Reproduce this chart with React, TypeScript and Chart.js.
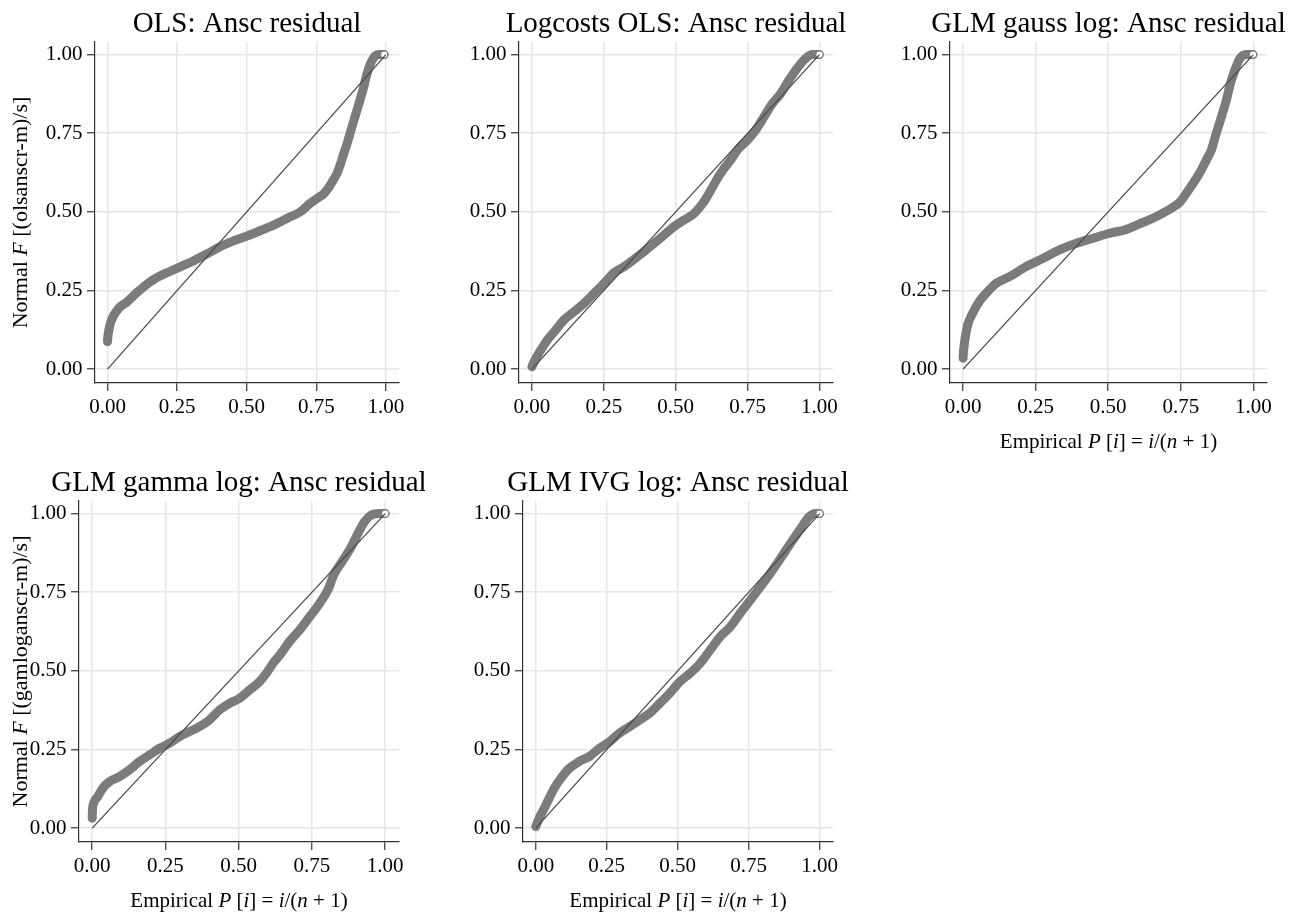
import React, { useEffect, useRef } from 'react';
import { Chart, registerables } from 'chart.js';

Chart.register(...registerables);

// ---------- data ----------
const AXIS_TICKS = [0, 0.25, 0.5, 0.75, 1];
const AXIS_TICK_LABELS = ['0.00', '0.25', '0.50', '0.75', '1.00'];
const DIAGONAL = [0, 1];

// OLS: Ansc residual
const olsP = [0.0, 0.001, 0.003, 0.006, 0.012, 0.02, 0.032, 0.044, 0.056, 0.068, 0.08, 0.092, 0.11, 0.128, 0.146, 0.164, 0.188, 0.212, 0.248, 0.28, 0.308, 0.356, 0.404, 0.452, 0.5, 0.548, 0.596, 0.644, 0.692, 0.728, 0.758, 0.776, 0.795, 0.811, 0.824, 0.836, 0.848, 0.86, 0.869, 0.878, 0.887, 0.896, 0.905, 0.914, 0.922, 0.929, 0.937, 0.944, 0.953, 0.962, 0.975, 0.994];
const olsF = [0.088, 0.1, 0.115, 0.13, 0.15, 0.167, 0.184, 0.197, 0.205, 0.212, 0.222, 0.232, 0.247, 0.26, 0.273, 0.284, 0.296, 0.306, 0.32, 0.333, 0.344, 0.366, 0.389, 0.408, 0.423, 0.44, 0.458, 0.479, 0.5, 0.527, 0.546, 0.557, 0.578, 0.601, 0.622, 0.65, 0.684, 0.715, 0.743, 0.77, 0.797, 0.823, 0.85, 0.877, 0.903, 0.929, 0.952, 0.97, 0.986, 0.996, 1.0, 1.0];

// Logcosts OLS: Ansc residual
const logolsP = [0, 0.014, 0.031, 0.054, 0.083, 0.112, 0.147, 0.182, 0.216, 0.251, 0.286, 0.321, 0.355, 0.39, 0.425, 0.459, 0.494, 0.529, 0.564, 0.598, 0.622, 0.645, 0.668, 0.691, 0.714, 0.749, 0.778, 0.807, 0.836, 0.865, 0.894, 0.922, 0.951, 0.975, 1.0];
const logolsF = [0.008, 0.035, 0.061, 0.093, 0.125, 0.157, 0.183, 0.21, 0.241, 0.273, 0.307, 0.326, 0.349, 0.374, 0.4, 0.426, 0.453, 0.474, 0.495, 0.532, 0.569, 0.606, 0.638, 0.665, 0.696, 0.728, 0.76, 0.802, 0.844, 0.876, 0.919, 0.956, 0.987, 1.0, 1.0];

// GLM gauss log: Ansc residual
const gaussP = [0, 0.002, 0.008, 0.016, 0.033, 0.056, 0.085, 0.114, 0.16, 0.217, 0.275, 0.332, 0.39, 0.447, 0.505, 0.562, 0.608, 0.65, 0.69, 0.723, 0.746, 0.77, 0.792, 0.81, 0.826, 0.841, 0.855, 0.872, 0.89, 0.907, 0.921, 0.936, 0.953, 0.976, 0.999];
const gaussF = [0.035, 0.061, 0.104, 0.141, 0.178, 0.215, 0.247, 0.273, 0.294, 0.326, 0.352, 0.379, 0.4, 0.416, 0.432, 0.444, 0.462, 0.478, 0.497, 0.515, 0.53, 0.56, 0.59, 0.616, 0.643, 0.67, 0.696, 0.749, 0.802, 0.855, 0.908, 0.95, 0.987, 1.0, 1.0];

// GLM gamma log: Ansc residual
const gammaP = [0, 0.001, 0.005, 0.019, 0.036, 0.059, 0.093, 0.127, 0.162, 0.196, 0.23, 0.264, 0.298, 0.332, 0.366, 0.4, 0.435, 0.469, 0.503, 0.537, 0.571, 0.594, 0.617, 0.645, 0.673, 0.708, 0.742, 0.776, 0.804, 0.827, 0.856, 0.884, 0.907, 0.929, 0.952, 0.981, 1.0];
const gammaF = [0.032, 0.058, 0.079, 0.1, 0.127, 0.148, 0.164, 0.185, 0.212, 0.233, 0.254, 0.27, 0.291, 0.307, 0.323, 0.344, 0.376, 0.397, 0.413, 0.439, 0.466, 0.492, 0.524, 0.556, 0.593, 0.63, 0.672, 0.714, 0.757, 0.81, 0.852, 0.894, 0.937, 0.974, 0.995, 1.0, 1.0];

// GLM IVG log: Ansc residual
const ivgP = [0, 0.012, 0.03, 0.047, 0.065, 0.089, 0.118, 0.153, 0.189, 0.224, 0.26, 0.295, 0.331, 0.366, 0.401, 0.437, 0.472, 0.508, 0.543, 0.579, 0.614, 0.649, 0.685, 0.72, 0.756, 0.791, 0.826, 0.862, 0.897, 0.933, 0.962, 0.986, 1.0];
const ivgF = [0.005, 0.032, 0.063, 0.095, 0.127, 0.159, 0.19, 0.212, 0.228, 0.254, 0.275, 0.302, 0.323, 0.344, 0.365, 0.397, 0.429, 0.466, 0.492, 0.524, 0.566, 0.608, 0.64, 0.683, 0.725, 0.767, 0.81, 0.857, 0.905, 0.952, 0.989, 1.0, 1.0];

// ---------- styling / layout ----------
const SERIF = "'Liberation Serif', 'Times New Roman', Times, serif";
const BAND = '#7b7b7b';
const AXIS_COLOR = '#333333';
const GRID_COLOR = '#e6e6e6';

type Seg = { t: string; i?: boolean };

const X_TITLE: Seg[] = [
  { t: 'Empirical ' }, { t: 'P', i: true }, { t: ' [' }, { t: 'i', i: true }, { t: '] = ' },
  { t: 'i', i: true }, { t: '/(' }, { t: 'n', i: true }, { t: ' + 1)' },
];
const yTitle = (v: string): Seg[] => [{ t: 'Normal ' }, { t: 'F', i: true }, { t: ` [(${v}-m)/s]` }];

type PanelCfg = {
  title: string;
  p: number[];
  f: number[];
  box: [number, number, number, number];
  yTitle: Seg[] | null;
  xTitle: Seg[] | null;
};

const PANELS: PanelCfg[] = [
  { title: 'OLS: Ansc residual', p: olsP, f: olsF, box: [95, 42, 399, 383], yTitle: yTitle('olsanscr'), xTitle: null },
  { title: 'Logcosts OLS: Ansc residual', p: logolsP, f: logolsF, box: [519, 42, 833, 383], yTitle: null, xTitle: null },
  { title: 'GLM gauss log: Ansc residual', p: gaussP, f: gaussF, box: [950, 42, 1267, 383], yTitle: null, xTitle: X_TITLE },
  { title: 'GLM gamma log: Ansc residual', p: gammaP, f: gammaF, box: [79, 501, 399, 842], yTitle: yTitle('gamloganscr'), xTitle: X_TITLE },
  { title: 'GLM IVG log: Ansc residual', p: ivgP, f: ivgF, box: [523, 501, 833, 842], yTitle: null, xTitle: X_TITLE },
];

const YW = 92;
const TOP = 44;
const RP = 26;
const XH = 70;

function drawSegs(ctx: CanvasRenderingContext2D, segs: Seg[], cx: number, y: number, size: number) {
  const fontOf = (s: Seg) => `${s.i ? 'italic ' : ''}${size}px ${SERIF}`;
  let total = 0;
  const widths = segs.map((s) => {
    ctx.font = fontOf(s);
    const w = ctx.measureText(s.t).width;
    total += w;
    return w;
  });
  let x = cx - total / 2;
  ctx.textAlign = 'left';
  ctx.textBaseline = 'alphabetic';
  segs.forEach((s, k) => {
    ctx.font = fontOf(s);
    ctx.fillText(s.t, x, y);
    x += widths[k];
  });
}

function Panel({ cfg }: { cfg: PanelCfg }) {
  const ref = useRef<HTMLCanvasElement | null>(null);
  const [L, T, R, B] = cfg.box;
  const W = YW + (R - L) + RP;
  const H = TOP + (B - T) + XH;
  const left = L - YW;
  const top = T - TOP;

  useEffect(() => {
    if (!ref.current) return;
    const textPlugin = {
      id: 'panelText',
      afterDraw(chart: any) {
        const ctx = chart.ctx as CanvasRenderingContext2D;
        const a = chart.chartArea;
        ctx.save();
        ctx.fillStyle = '#000';
        ctx.font = `29px ${SERIF}`;
        ctx.textAlign = 'center';
        ctx.textBaseline = 'alphabetic';
        ctx.fillText(cfg.title, (a.left + a.right) / 2, a.top - 10);
        if (cfg.xTitle) drawSegs(ctx, cfg.xTitle, (a.left + a.right) / 2, a.bottom + 65, 21);
        if (cfg.yTitle) {
          ctx.translate(27 - left, (a.top + a.bottom) / 2);
          ctx.rotate(-Math.PI / 2);
          drawSegs(ctx, cfg.yTitle, 0, 0, 22);
        }
        ctx.restore();
      },
    };

    const axisCommon = {
      type: 'linear' as const,
      afterBuildTicks: (s: any) => {
        s.ticks = AXIS_TICKS.map((v) => ({ value: v }));
      },
      grid: {
        color: GRID_COLOR,
        lineWidth: 1.5,
        tickColor: AXIS_COLOR,
        tickWidth: 1.2,
        tickLength: 8,
      },
      border: { display: true, color: AXIS_COLOR, width: 1.2 },
    };

    const lastIdx = cfg.p.length - 1;

    const chart = new Chart(ref.current, {
      type: 'scatter',
      data: {
        datasets: [
          {
            data: DIAGONAL.map((v) => ({ x: v, y: v })),
            showLine: true,
            borderColor: '#4a4a4a',
            borderWidth: 1.3,
            pointRadius: 0,
            order: 0,
          },
          {
            data: cfg.p.map((v, k) => ({ x: v, y: cfg.f[k] })),
            showLine: true,
            borderColor: BAND,
            borderWidth: 9,
            borderJoinStyle: 'round',
            borderCapStyle: 'round',
            cubicInterpolationMode: 'monotone',
            pointRadius: 3.6,
            pointBorderWidth: 1.1,
            pointBorderColor: BAND,
            pointBackgroundColor: (c: any) => (c.dataIndex === lastIdx ? '#ffffff' : 'rgba(255,255,255,0)'),
            order: 1,
          },
        ] as any,
      },
      options: {
        responsive: false,
        animation: false,
        devicePixelRatio: 1,
        layout: { padding: { top: TOP, right: RP, left: 0, bottom: 0 } },
        plugins: { legend: { display: false }, tooltip: { enabled: false }, title: { display: false } },
        events: [],
        scales: {
          x: {
            ...axisCommon,
            min: -0.045,
            max: 1.047,
            afterFit: (s: any) => {
              s.height = XH;
            },
            ticks: {
              callback: (_v: any, i: number) => AXIS_TICK_LABELS[i],
              font: { family: SERIF, size: 21 },
              color: '#000',
              padding: 3.5,
              maxRotation: 0,
              autoSkip: false,
            },
          },
          y: {
            ...axisCommon,
            min: -0.044,
            max: 1.04,
            afterFit: (s: any) => {
              s.width = YW;
            },
            ticks: {
              callback: (_v: any, i: number) => AXIS_TICK_LABELS[i],
              font: { family: SERIF, size: 21 },
              color: '#000',
              padding: 4.5,
              autoSkip: false,
            },
          },
        } as any,
      },
      plugins: [textPlugin],
    });
    return () => chart.destroy();
  }, []);

  return (
    <canvas
      ref={ref}
      width={W}
      height={H}
      style={{ position: 'absolute', left, top, width: W, height: H }}
    />
  );
}

export default function App() {
  return (
    <div
      style={{
        position: 'absolute',
        left: 0,
        top: 0,
        width: 1295,
        height: 913,
        overflow: 'hidden',
        background: '#fff',
      }}
    >
      {PANELS.map((cfg, k) => (
        <Panel key={k} cfg={cfg} />
      ))}
    </div>
  );
}
